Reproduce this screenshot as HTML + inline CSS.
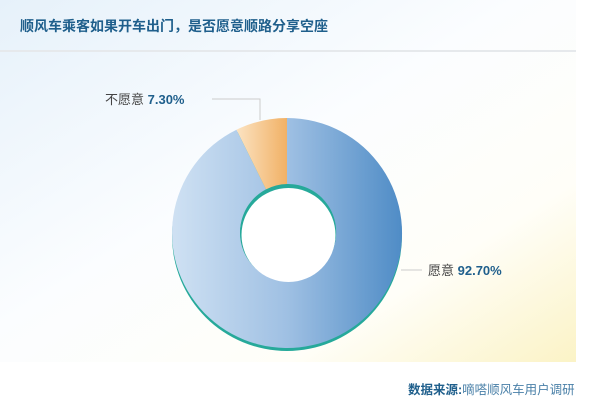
<!DOCTYPE html>
<html><head><meta charset="utf-8"><style>
body{margin:0;width:600px;height:408px;overflow:hidden;background:#fff;font-family:"Liberation Sans","Noto Sans CJK SC",sans-serif;}
</style></head><body>
<svg width="600" height="408" viewBox="0 0 600 408">
<defs>
<linearGradient id="bg" x1="0" y1="0" x2="1" y2="1">
<stop offset="0" stop-color="#e6f1fa"/><stop offset="0.45" stop-color="#fbfdff"/><stop offset="0.75" stop-color="#fffef8"/><stop offset="1" stop-color="#fbf3c6"/>
</linearGradient>
<linearGradient id="blue" x1="0" y1="0" x2="1" y2="0">
<stop offset="0" stop-color="#cfe1f3"/><stop offset="0.5" stop-color="#9fc0e3"/><stop offset="1" stop-color="#4f8cc6"/>
</linearGradient>
<linearGradient id="or" x1="0" y1="0" x2="1" y2="0">
<stop offset="0" stop-color="#fbe3c2"/><stop offset="1" stop-color="#f1b165"/>
</linearGradient>
</defs>
<rect x="0" y="0" width="576" height="362" fill="url(#bg)"/>
<line x1="0" y1="51" x2="576" y2="51" stroke="#e6e9ec" stroke-width="2"/>
<text x="20" y="31" font-size="14" font-weight="bold" fill="#1f5f8c">顺风车乘客如果开车出门，是否愿意顺路分享空座</text>
<circle cx="287" cy="236" r="115" fill="#26a99a"/>
<path d="M287,118 A115,115 0 1 1 236.5,129.7 L266,189.4 A48,48 0 1 0 287,184 Z" fill="url(#blue)"/>
<path d="M287,118 L287,184 A48,48 0 0 0 266,189.4 L236.5,129.7 A115,115 0 0 1 287,118 Z" fill="url(#or)"/>
<circle cx="288" cy="233" r="48" fill="#26a99a"/>
<circle cx="288.5" cy="235" r="47" fill="#fff"/>
<polyline points="260,120 260,99 212,99" fill="none" stroke="#ccc"/>
<polyline points="401,270 422,270" fill="none" stroke="#ccc"/>
<text x="105" y="104" font-size="13" fill="#444">不愿意 <tspan font-weight="bold" fill="#1f5f8c">7.30%</tspan></text>
<text x="428" y="275" font-size="13" fill="#444">愿意 <tspan font-weight="bold" fill="#1f5f8c">92.70%</tspan></text>
<text x="408" y="394" font-size="12.5" fill="#1f5f8c"><tspan font-weight="bold">数据来源:</tspan><tspan fill="#4a80a8">嘀嗒顺风车用户调研</tspan></text>
</svg>
</body></html>
